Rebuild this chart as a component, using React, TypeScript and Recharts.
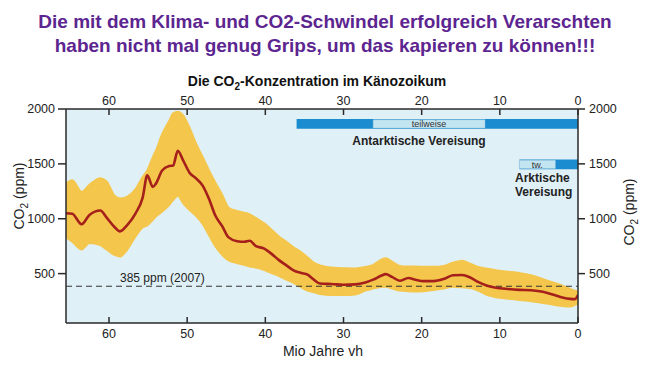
import React from 'react';
import {
  ComposedChart, Area, Line, XAxis, YAxis, ReferenceLine, ReferenceArea, CartesianGrid,
} from 'recharts';

// Age in million years before present
const ages = [
  65.5, 64.7, 63.5, 62.5, 61.1, 60.3, 59.3, 58.6, 57.7, 56.6, 55.7, 55.1, 54.4, 54.0, 53.2, 52.3,
  51.8, 51.2, 50.5, 49.7, 48.9, 48.0, 47.2, 46.4, 45.5, 44.7, 43.6, 42.7, 42.0, 41.2, 40.2, 39.2,
  38.3, 37.3, 36.4, 35.4, 34.6, 33.8, 33.0, 31.5, 30.0, 28.5, 27.2, 26.2, 25.2, 24.6, 23.8, 22.8,
  21.7, 20.8, 19.8, 18.5, 17.2, 16.0, 14.8, 13.8, 12.8, 11.6, 10.5, 9.0, 7.5, 6.0, 4.5, 3.0, 2.0,
  1.0, 0.4, 0.0,
];
// CO2 best estimate (ppm)
const co2Mean = [
  1050, 1045, 950, 1035, 1075, 1010, 925, 885, 940, 1050, 1190, 1395, 1290, 1320, 1440, 1480,
  1485, 1620, 1530, 1420, 1370, 1300, 1180, 1030, 930, 830, 795, 790, 800, 750, 730, 680,
  625, 575, 530, 505, 490, 445, 410, 405, 398, 402, 420, 445, 480, 495, 470, 435,
  460, 445, 432, 432, 450, 485, 488, 465, 425, 390, 372, 360, 352, 348, 335, 305, 283,
  270, 268, 305,
];
// Uncertainty band, lower and upper (ppm)
const co2Low = [
  830, 790, 720, 780, 760, 720, 670, 655, 715, 840, 920, 940, 990, 1020, 1065, 1125,
  1170, 1210, 1140, 1080, 1030, 950, 850, 750, 670, 620, 595, 580, 565, 555, 535, 505,
  480, 445, 415, 375, 345, 330, 315, 305, 305, 310, 345, 365, 378, 380, 365, 345,
  340, 338, 340, 350, 365, 380, 375, 368, 345, 305, 285, 272, 260, 248, 232, 215, 205,
  200, 215, 230,
];
const co2High = [
  1320, 1350, 1245, 1310, 1370, 1340, 1210, 1185, 1200, 1270, 1380, 1440, 1560, 1620, 1770, 1890,
  1960, 1975, 1940, 1830, 1690, 1560, 1440, 1330, 1215, 1100, 1070, 1055, 1040, 1005, 960, 900,
  840, 790, 740, 695, 650, 600, 575, 555, 548, 547, 560, 580, 625, 640, 610, 570,
  565, 565, 562, 562, 570, 600, 618, 590, 560, 545, 530, 518, 505, 485, 450, 415, 390,
  360, 345, 340,
];

const xTicks = [0, 10, 20, 30, 40, 50, 60];
const yTicks = [500, 1000, 1500, 2000];
const present2007 = 385;

// Glaciation periods (Myr): [start, end]
const antarcticFull = [36, 0];
const antarcticPartial = [26.2, 11.9];
const arcticFull = [7.5, 0];
const arcticPartial = [7.5, 2.9];

const data = ages.map((age, i) => ({
  age,
  mean: co2Mean[i],
  band: [co2Low[i], co2High[i]],
}));

const FONT = '"Liberation Sans", Arial, Helvetica, sans-serif';
const AXIS = '#2a2a2a';

const BottomTick = (props: any) => {
  const { x, y, payload } = props;
  return (
    <g>
      <line x1={x} x2={x} y1={y - 15} y2={y - 21} stroke={AXIS} strokeWidth={1.5} />
      <text x={x} y={y} textAnchor="middle" fontSize={12.5} fill="#222">{payload.value}</text>
    </g>
  );
};

const TopTick = (props: any) => {
  const { x, y, payload } = props;
  return (
    <g>
      <line x1={x} x2={x} y1={y + 4} y2={y + 10} stroke={AXIS} strokeWidth={1.5} />
      <text x={x} y={y} textAnchor="middle" fontSize={12.5} fill="#222">{payload.value}</text>
    </g>
  );
};

const RefLabel = (props: any) => {
  const vb = props.viewBox || {};
  return (
    <text x={(vb.x || 0) + 54} y={(vb.y || 0) - 4} fontSize={12} fill="#222">385 ppm (2007)</text>
  );
};

export default function App() {
  return (
    <div style={{ position: 'absolute', left: 0, top: 0, width: 650, height: 367, fontFamily: FONT, background: '#fff' }}>
      <ComposedChart
        width={650}
        height={367}
        data={data}
        margin={{ top: 89, right: 12, bottom: 14, left: 16 }}
      >
        <CartesianGrid xAxisId="bottom" yAxisId="left" fill="#e0f0f7" stroke="none" horizontal={false} vertical={false} />
        <XAxis
          xAxisId="bottom"
          type="number"
          dataKey="age"
          domain={[0, 65.5]}
          allowDataOverflow
          reversed
          ticks={xTicks}
          interval={0}
          orientation="bottom"
          height={30}
          tickSize={0}
          tickMargin={15}
          tickLine={false}
          tick={<BottomTick />}
          axisLine={{ stroke: AXIS, strokeWidth: 1.5 }}
        />
        <XAxis
          xAxisId="top"
          type="number"
          dataKey="age"
          domain={[0, 65.5]}
          allowDataOverflow
          reversed
          ticks={xTicks}
          interval={0}
          orientation="top"
          height={20}
          tickSize={0}
          tickMargin={4}
          tickLine={false}
          tick={<TopTick />}
          axisLine={{ stroke: AXIS, strokeWidth: 1.5 }}
        />
        <YAxis
          yAxisId="left"
          type="number"
          domain={[50, 2000]}
          allowDataOverflow
          ticks={yTicks}
          interval={0}
          width={50}
          tickSize={8}
          tickMargin={3}
          tick={{ fontSize: 12.5, fill: '#222' }}
          tickLine={{ stroke: AXIS, strokeWidth: 1.5 }}
          axisLine={{ stroke: AXIS, strokeWidth: 1.5 }}
        />
        <YAxis
          yAxisId="right"
          orientation="right"
          type="number"
          domain={[50, 2000]}
          allowDataOverflow
          ticks={yTicks}
          interval={0}
          width={60}
          tickSize={7}
          tickMargin={4}
          tick={{ fontSize: 12.5, fill: '#222' }}
          tickLine={{ stroke: AXIS, strokeWidth: 1.5 }}
          axisLine={{ stroke: AXIS, strokeWidth: 1.5 }}
        />

        <ReferenceArea xAxisId="bottom" yAxisId="left" x1={antarcticFull[0]} x2={antarcticFull[1]} y1={1820} y2={1910} fill="#1a8ccf" fillOpacity={1} stroke="none" />
        <ReferenceArea
          xAxisId="bottom" yAxisId="left"
          x1={antarcticPartial[0]} x2={antarcticPartial[1]} y1={1828} y2={1902}
          fill="#c3e5f2" fillOpacity={1} stroke="#9fc9da" strokeWidth={0.5}
          label={{ value: 'teilweise', position: 'center', fontSize: 9, fill: '#333' }}
        />
        <ReferenceArea xAxisId="bottom" yAxisId="left" x1={arcticFull[0]} x2={arcticFull[1]} y1={1450} y2={1540} fill="#1a8ccf" fillOpacity={1} stroke="none" />
        <ReferenceArea
          xAxisId="bottom" yAxisId="left"
          x1={arcticPartial[0]} x2={arcticPartial[1]} y1={1458} y2={1532}
          fill="#c3e5f2" fillOpacity={1} stroke="#9fc9da" strokeWidth={0.5}
          label={{ value: 'tw.', position: 'center', fontSize: 9, fill: '#333' }}
        />

        <Area
          xAxisId="bottom" yAxisId="left"
          type="monotone"
          dataKey="band"
          fill="#f4c64c"
          fillOpacity={1}
          stroke="#f4c64c"
          strokeWidth={2}
          isAnimationActive={false}
          dot={false}
          activeDot={false}
        />
        <ReferenceLine
          xAxisId="bottom" yAxisId="left"
          y={present2007}
          stroke="#333"
          strokeWidth={1}
          strokeDasharray="6 4"
          label={<RefLabel />}
        />
        <Line
          xAxisId="bottom" yAxisId="left"
          type="monotone"
          dataKey="mean"
          stroke="#a5201b"
          strokeWidth={2.6}
          dot={false}
          activeDot={false}
          isAnimationActive={false}
        />
      </ComposedChart>

      <svg width={650} height={367} style={{ position: 'absolute', left: 0, top: 0, pointerEvents: 'none' }}>
        <g fontFamily={FONT} fontWeight="bold" fill="#5c2590" fontSize={19} textAnchor="middle">
          <text x={325} y={28}>Die mit dem Klima- und CO2-Schwindel erfolgreich Verarschten</text>
          <text x={325} y={52}>haben nicht mal genug Grips, um das kapieren zu können!!!</text>
        </g>
        <text x={317} y={86} fontFamily={FONT} fontWeight="bold" fontSize={14} fill="#111" textAnchor="middle">
          Die CO<tspan fontSize={10} dy={4}>2</tspan><tspan dy={-4}>-Konzentration im Känozoikum</tspan>
        </text>
        <text x={323} y={356} fontFamily={FONT} fontSize={14} fill="#222" textAnchor="middle">Mio Jahre vh</text>
        <text x={0} y={0} fontFamily={FONT} fontSize={14} fill="#222" textAnchor="middle" transform="translate(24,196) rotate(-90)">
          CO<tspan fontSize={10} dy={4}>2</tspan><tspan dy={-4}> (ppm)</tspan>
        </text>
        <text x={0} y={0} fontFamily={FONT} fontSize={14} fill="#222" textAnchor="middle" transform="translate(634,212) rotate(-90)">
          CO<tspan fontSize={10} dy={4}>2</tspan><tspan dy={-4}> (ppm)</tspan>
        </text>
        <text x={419} y={145} fontFamily={FONT} fontWeight="bold" fontSize={12} fill="#222" textAnchor="middle">Antarktische Vereisung</text>
        <text x={515} y={182} fontFamily={FONT} fontWeight="bold" fontSize={12} fill="#222">Arktische</text>
        <text x={515} y={196} fontFamily={FONT} fontWeight="bold" fontSize={12} fill="#222">Vereisung</text>
      </svg>
    </div>
  );
}
